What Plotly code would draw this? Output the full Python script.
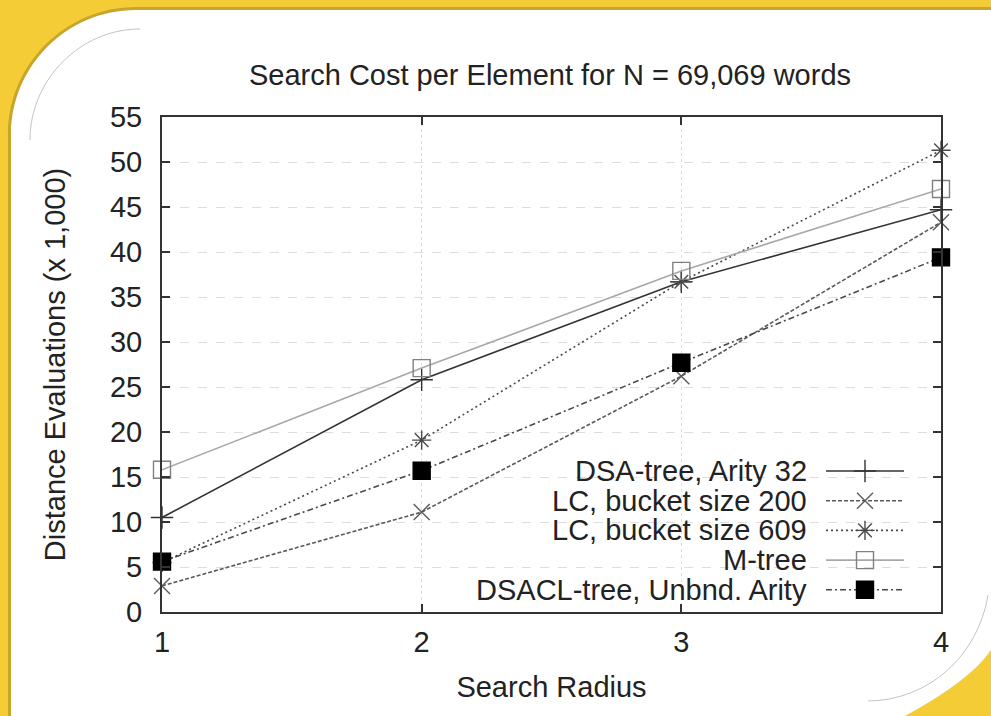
import plotly.graph_objects as go

# ---------------- data ----------------
radius = [1, 2, 3, 4]
series_names = ["DSA-tree, Arity 32", "LC, bucket size 200", "LC, bucket size 609",
                "M-tree", "DSACL-tree, Unbnd. Arity"]
dsa_tree = [10.5, 25.8, 36.7, 44.7]
lc_200 = [2.9, 11.1, 26.2, 43.3]
lc_609 = [5.5, 19.1, 36.7, 51.3]
m_tree = [15.8, 27.1, 37.9, 47.0]
dsacl_tree = [5.6, 15.7, 27.7, 39.4]
y_ticks = [0, 5, 10, 15, 20, 25, 30, 35, 40, 45, 50, 55]
x_ticks = [1, 2, 3, 4]

series_values = [dsa_tree, lc_200, lc_609, m_tree, dsacl_tree]

# ---------------- styles ----------------
styles = [
    dict(color="#333333", dash="solid", symbol="cross-thin-open", size=16, mcolor="#333333"),
    dict(color="#5a5a5a", dash="4px,2px", symbol="x-thin-open", size=16, mcolor="#5a5a5a"),
    dict(color="#4a4a4a", dash="2px,3px", symbol="asterisk-open", size=16, mcolor="#4a4a4a"),
    dict(color="#a8a8a8", dash="solid", symbol="square-open", size=17, mcolor="#808080"),
    dict(color="#4a4a4a", dash="6px,3px,2px,3px", symbol="square", size=17, mcolor="#000000"),
]

W, H = 991, 716
L, R, T, B = 162, 50, 117, 104
PW, PH = W - L - R, H - T - B


def px(x):
    return (x - L) / PW


def py(y):
    return (H - B - y) / PH


def path(cmds, close=True):
    out = []
    for c in cmds:
        op, pts = c[0], c[1:]
        s = op
        for i in range(0, len(pts), 2):
            s += " %.5f,%.5f" % (px(pts[i]), py(pts[i + 1]))
        out.append(s)
    return " ".join(out) + (" Z" if close else "")


FONT = "Liberation Sans, Arial, Helvetica, sans-serif"
FS = 29
TXT = "#222222"

fig = go.Figure()

for name, vals, st in zip(series_names, series_values, styles):
    fig.add_trace(go.Scatter(
        x=radius, y=vals, name=name, mode="lines+markers",
        line=dict(color=st["color"], width=1.6, dash=st["dash"]),
        marker=dict(symbol=st["symbol"], size=st["size"], color=st["mcolor"],
                    line=dict(color=st["mcolor"], width=1.4)),
        showlegend=False, cliponaxis=False,
    ))

# custom legend (text left, sample right) on an overlay axis in pixel units
row_y0, row_dy = 471, 29.7
for i, (name, st) in enumerate(zip(series_names, styles)):
    yy = row_y0 + i * row_dy
    fig.add_trace(go.Scatter(
        x=[826, 904], y=[yy, yy], xaxis="x2", yaxis="y2",
        mode="lines", showlegend=False, hoverinfo="skip",
        line=dict(color=st["color"], width=1.6, dash=st["dash"]),
    ))
    fig.add_trace(go.Scatter(
        x=[865], y=[yy], xaxis="x2", yaxis="y2",
        mode="markers", showlegend=False, hoverinfo="skip",
        marker=dict(symbol=st["symbol"], size=st["size"], color=st["mcolor"],
                    line=dict(color=st["mcolor"], width=1.4)),
    ))
    fig.add_annotation(x=809, y=yy, xref="x2", yref="y2", text=name, showarrow=False,
                       xanchor="right", yanchor="middle",
                       font=dict(family=FONT, size=FS, color=TXT))

shapes = []
# shadow of card
shapes.append(dict(type="path", xref="paper", yref="paper", layer="below",
                   path=path([("M", 8, 730), ("L", 8, 135), ("C", 8, 64, 66, 7, 136, 7),
                              ("L", 1000, 7), ("L", 1000, 636), ("L", 993, 646),
                              ("Q", 969, 684, 900, 718), ("L", 896, 730)]),
                   fillcolor="#c9a42c", line=dict(width=0)))
# white card
shapes.append(dict(type="path", xref="paper", yref="paper", layer="below",
                   path=path([("M", 11, 730), ("L", 11, 135), ("C", 11, 66, 67, 10, 136, 10),
                              ("L", 1000, 10), ("L", 1000, 640), ("L", 991, 650),
                              ("Q", 970, 681, 905, 716), ("L", 900, 730)]),
                   fillcolor="#ffffff", line=dict(width=0)))
# thin inner arcs
shapes.append(dict(type="path", xref="paper", yref="paper", layer="below",
                   path=path([("M", 30, 140), ("C", 30, 80, 80, 29, 140, 29)], close=False),
                   line=dict(color="#b8b4a8", width=0.8)))
shapes.append(dict(type="path", xref="paper", yref="paper", layer="below",
                   path=path([("M", 988, 595), ("C", 978, 655, 930, 700, 868, 701)], close=False),
                   line=dict(color="#b8b4a8", width=0.8)))
# key area hides grid
shapes.append(dict(type="rect", xref="paper", yref="paper", layer="between",
                   x0=px(388), x1=px(938), y0=py(606), y1=py(455),
                   fillcolor="#ffffff", line=dict(width=0)))

fig.update_layout(
    width=W, height=H,
    margin=dict(l=L, r=R, t=T, b=B, autoexpand=False),
    paper_bgcolor="#f4cd36", plot_bgcolor="rgba(0,0,0,0)",
    font=dict(family=FONT, size=FS, color=TXT),
    title=dict(text="Search Cost per Element for N = 69,069 words",
               x=(247 + 853) / 2 / W, xanchor="center", xref="container",
               y=1 - 75 / H, yanchor="middle", yref="container",
               font=dict(family=FONT, size=FS, color=TXT)),
    shapes=shapes,
    xaxis=dict(range=[1, 4], tickvals=x_ticks, ticktext=[str(v) for v in x_ticks],
               showline=True, linecolor="#333333", linewidth=2, mirror="ticks",
               ticks="inside", ticklen=8, tickwidth=1.5, tickcolor="#333333",
               showgrid=True, gridcolor="#dddddd", gridwidth=1, griddash="dot",
               zeroline=False, ticklabelstandoff=3,
               title=dict(text="Search Radius", standoff=20,
                          font=dict(family=FONT, size=FS, color=TXT))),
    yaxis=dict(range=[0, 55], tickvals=y_ticks,
               showline=True, linecolor="#333333", linewidth=2, mirror="ticks",
               ticks="inside", ticklen=8, tickwidth=1.5, tickcolor="#333333",
               showgrid=True, gridcolor="#dddddd", gridwidth=1, griddash="dash",
               zeroline=False, ticklabelstandoff=12,
               title=dict(text="Distance Evaluations (x 1,000)", standoff=36,
                          font=dict(family=FONT, size=FS, color=TXT))),
    xaxis2=dict(overlaying="x", range=[L, L + PW], visible=False, fixedrange=True),
    yaxis2=dict(overlaying="y", range=[T + PH, T], visible=False, fixedrange=True),
    showlegend=False,
)

fig.write_html("out.html", config={"displayModeBar": False},
               post_script="document.body.style.margin='0';document.body.style.overflow='hidden';")
